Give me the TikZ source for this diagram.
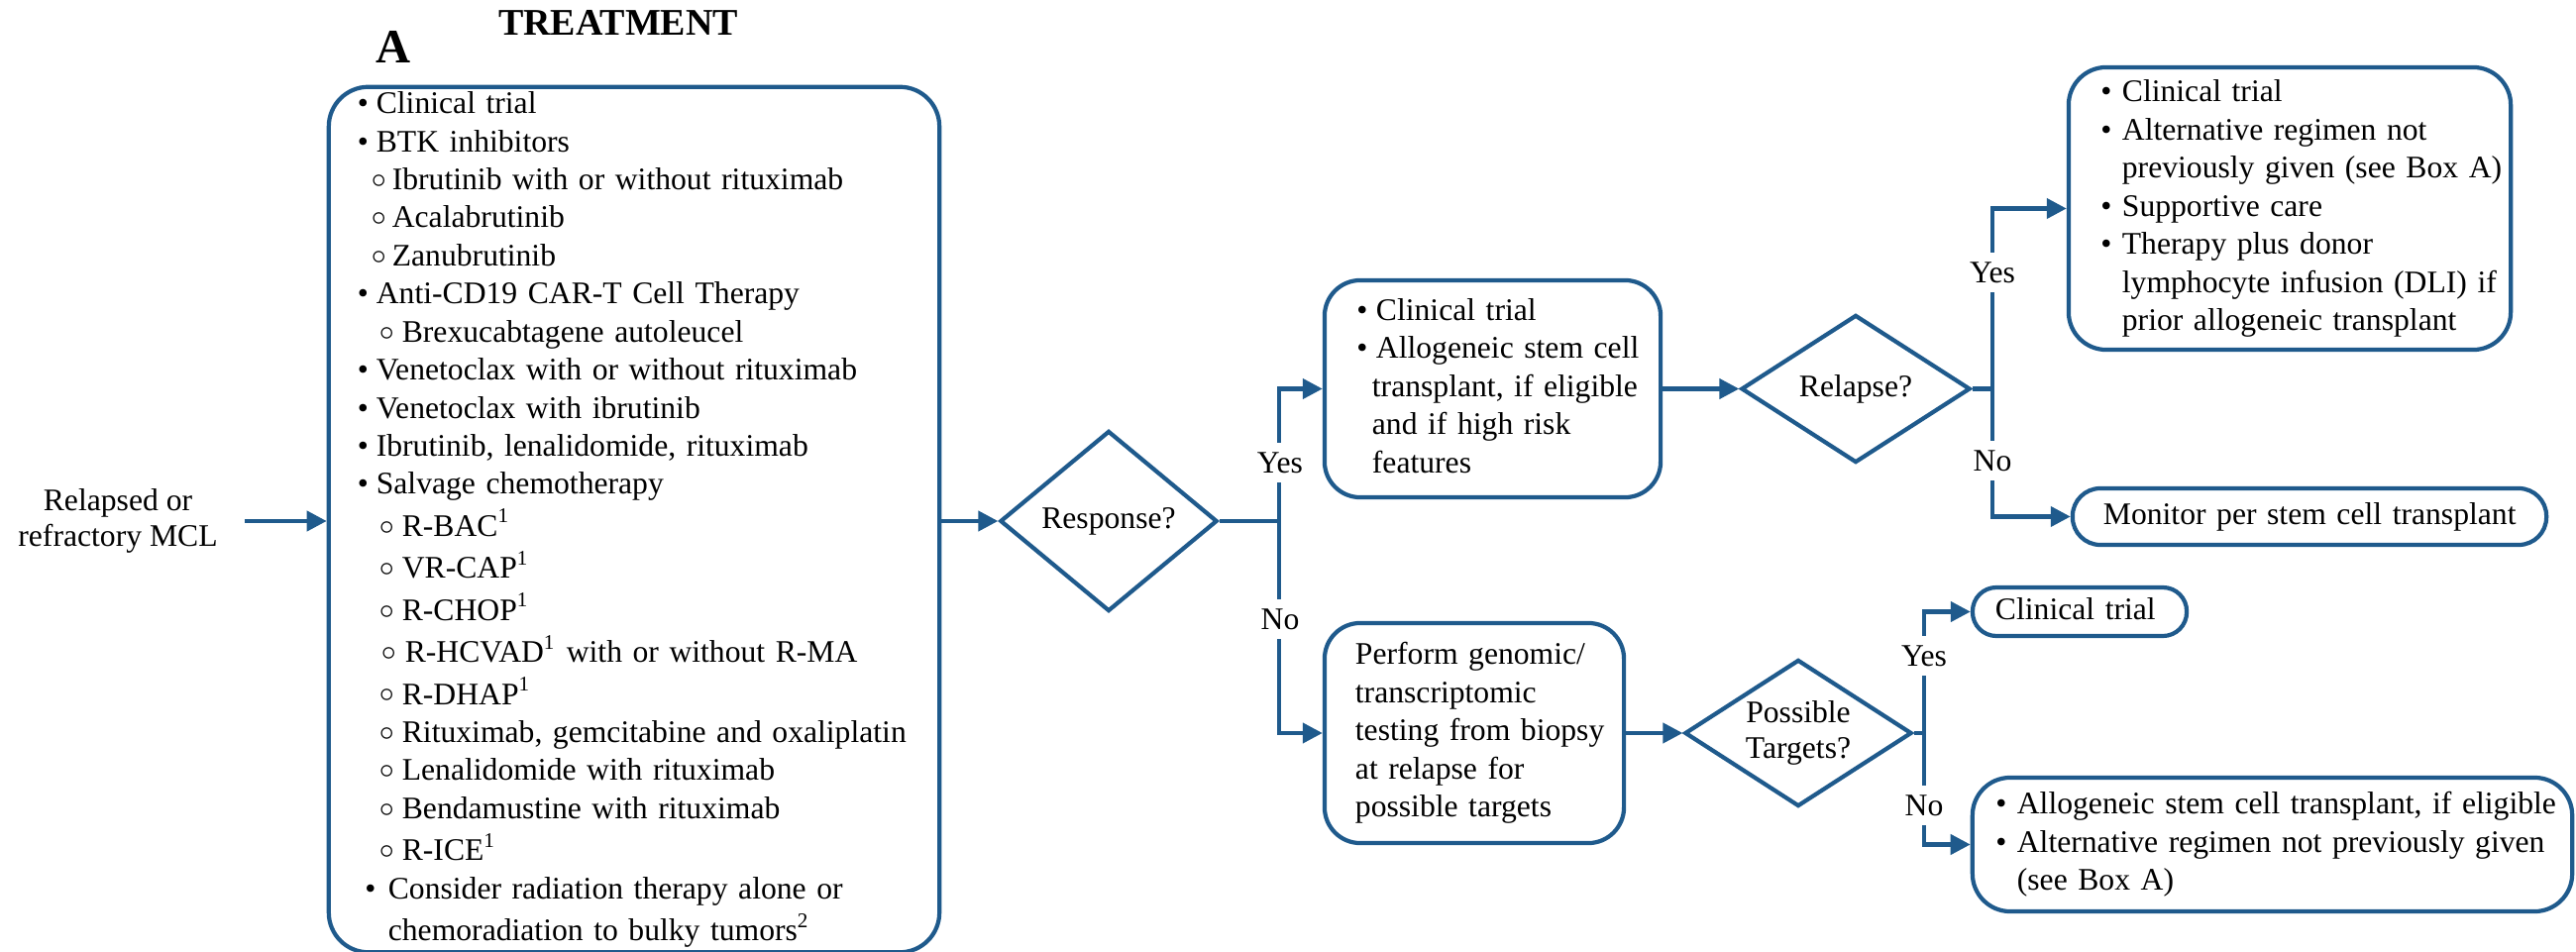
\documentclass[tikz,border=0pt]{standalone}
\usepackage{fontspec}
\setmainfont{Liberation Serif}
\usetikzlibrary{arrows.meta,shapes.geometric}
\newlength\pxu
\setlength\pxu{0.01cm}
\setlength\lineskiplimit{-100pt}
\definecolor{fc}{RGB}{31,90,140}
\newcommand\bitem[2]{\mbox{\strut\makebox[#1\pxu][l]{\textbullet}#2}}
\newcommand\citem[2]{\mbox{\strut\hspace*{#1\pxu}#2}}
\newcommand\sitem[3]{\mbox{\strut\hspace*{#1\pxu}\makebox[#2\pxu][l]{\raisebox{0.6pt}{\fontsize{8}{9}\selectfont$\circ$}}#3}}
\begin{document}
\begin{tikzpicture}[x=0.01cm,y=-0.01cm,
  every node/.style={font=\fontsize{9}{10.93}\selectfont},
  box/.style={draw=fc, line width=1.2pt, rounded corners=0.36cm, align=left, inner ysep=0pt},
  dia/.style={draw=fc, line width=1.2pt, diamond, inner sep=0pt, align=center},
  arr/.style={draw=fc, line width=1.2pt, -{Triangle[length=0.2cm,width=0.2cm]}},
  ln/.style={draw=fc, line width=1.2pt},
  lab/.style={fill=white, inner xsep=2pt, inner ysep=0.095cm}]
\useasboundingbox (0,0) rectangle (2600,961);

% titles
\node[font=\fontsize{10.8}{13}\selectfont\bfseries, inner sep=0pt] (title) at (624,23) {TREATMENT};
\node[font=\fontsize{13.8}{16}\selectfont\bfseries, inner sep=0pt] (lblA) at (397,47) {A};

% input
\node[align=center, font=\fontsize{9}{10}\selectfont, inner xsep=0.265cm] (in) at (119,526) {Relapsed or\\refractory MCL};

% box A
\node[box, rounded corners=0.40cm, minimum width=6.16cm, minimum height=8.69cm, text width=5.58cm, inner xsep=0.29cm] (boxA) at (640,524.5) {%
\bitem{19}{Clinical trial}\\
\bitem{19}{BTK inhibitors}\\
\sitem{14}{21}{Ibrutinib with or without rituximab}\\
\sitem{14}{21}{Acalabrutinib}\\
\sitem{14}{21}{Zanubrutinib}\\
\bitem{19}{Anti-CD19 CAR-T Cell Therapy}\\
\sitem{22}{23}{Brexucabtagene autoleucel}\\
\bitem{19}{Venetoclax with or without rituximab}\\
\bitem{19}{Venetoclax with ibrutinib}\\
\bitem{19}{Ibrutinib, lenalidomide, rituximab}\\
\bitem{19}{Salvage chemotherapy}\\
\sitem{22}{23}{R-BAC\textsuperscript{1}}\\
\sitem{22}{23}{VR-CAP\textsuperscript{1}}\\
\sitem{22}{23}{R-CHOP\textsuperscript{1}}\\
\sitem{24}{24}{R-HCVAD\textsuperscript{1} with or without R-MA}\\
\sitem{22}{23}{R-DHAP\textsuperscript{1}}\\
\sitem{22}{23}{Rituximab, gemcitabine and oxaliplatin}\\
\sitem{22}{23}{Lenalidomide with rituximab}\\
\sitem{22}{23}{Bendamustine with rituximab}\\
\sitem{22}{23}{R-ICE\textsuperscript{1}}\\
\citem{7.5}{\makebox[23.5\pxu][l]{\textbullet}Consider radiation therapy alone or}\\
\citem{31}{chemoradiation to bulky tumors\textsuperscript{2}}};

% response diamond
\node[dia, aspect=1.2, minimum width=2.19cm, minimum height=1.82cm] (resp) at (1119,526) {Response?};

% upper box after response
\node[box, minimum width=3.39cm, minimum height=2.19cm, text width=2.74cm, inner xsep=0.325cm] (ub) at (1506.5,392.5) {%
\bitem{19.5}{Clinical trial}\\
\bitem{19.5}{Allogeneic stem cell}\\
\citem{15.5}{transplant, if eligible}\\
\citem{15.5}{and if high risk}\\
\citem{15.5}{features}};

% perform box
\node[box, minimum width=3.02cm, minimum height=2.22cm, text width=2.40cm, inner xsep=0.31cm] (perf) at (1488,740) {%
\citem{0}{Perform genomic/}\\
\citem{0}{transcriptomic}\\
\citem{0}{testing from biopsy}\\
\citem{0}{at relapse for}\\
\citem{0}{possible targets}};

% relapse diamond
\node[dia, aspect=1.55, minimum width=2.31cm, minimum height=1.49cm] (rel) at (1873,392.5) {Relapse?};

% targets diamond
\node[dia, aspect=1.55, minimum width=2.29cm, minimum height=1.48cm, font=\fontsize{9}{10.2}\selectfont] (targ) at (1815,740) {Possible\\Targets?};

% top right box
\node[box, rounded corners=0.38cm, minimum width=4.46cm, minimum height=2.85cm, text width=3.81cm, inner xsep=0.325cm] (tr) at (2311,210.5) {%
\bitem{21.5}{Clinical trial}\\
\bitem{21.5}{Alternative regimen not}\\
\citem{21.5}{previously given (see Box A)}\\
\bitem{21.5}{Supportive care}\\
\bitem{21.5}{Therapy plus donor}\\
\citem{21.5}{lymphocyte infusion (DLI) if}\\
\citem{21.5}{prior allogeneic transplant}};

% monitor box
\node[box, rounded corners=0.28cm, minimum width=4.78cm, minimum height=0.57cm, text width=4.16cm, inner xsep=0.31cm] (mon) at (2331,521.5) {\citem{0}{Monitor per stem cell transplant}};

% clinical trial small box
\node[box, rounded corners=0.24cm, minimum width=2.16cm, minimum height=0.49cm, text width=1.70cm, inner xsep=0.23cm] (ct) at (2099,617.5) {\citem{0}{Clinical trial}};

% bottom right box
\node[box, rounded corners=0.38cm, minimum width=6.05cm, minimum height=1.35cm, text width=5.58cm, inner xsep=0.235cm] (br) at (2293.5,852.5) {%
\bitem{21.5}{Allogeneic stem cell transplant, if eligible}\\
\bitem{21.5}{Alternative regimen not previously given}\\
\citem{21.5}{(see Box A)}};

% branch points
\coordinate (rb) at (1291,526);
\coordinate (relb) at (2011,392.5);
\coordinate (tb) at (1942,740);

% connectors
\draw[arr] (in.east) -- (in.east -| boxA.west);
\draw[arr] (resp.west -| boxA.east) -- (resp.west);
\draw[ln] (resp.east) -- (rb);
\draw[arr] (rb) |- (ub.west);
\draw[arr] (rb) |- (perf.west);
\draw[arr] (ub.east) -- (rel.west);
\draw[arr] (perf.east) -- (targ.west);
\draw[ln] (rel.east) -- (relb);
\draw[arr] (relb) |- (tr.west);
\draw[arr] (relb) |- (mon.west);
\draw[ln] (targ.east) -- (tb);
\draw[arr] (tb) |- (ct.west);
\draw[arr] (tb) |- (br.west);

% labels
\node[lab] (y1) at (1292,467) {Yes};
\node[lab] (n1) at (1292,625) {No};
\node[lab] (y2) at (2011,275) {Yes};
\node[lab] (n2) at (2011,465) {No};
\node[lab] (y3) at (1942,662) {Yes};
\node[lab] (n3) at (1942,813) {No};
\end{tikzpicture}
\end{document}
